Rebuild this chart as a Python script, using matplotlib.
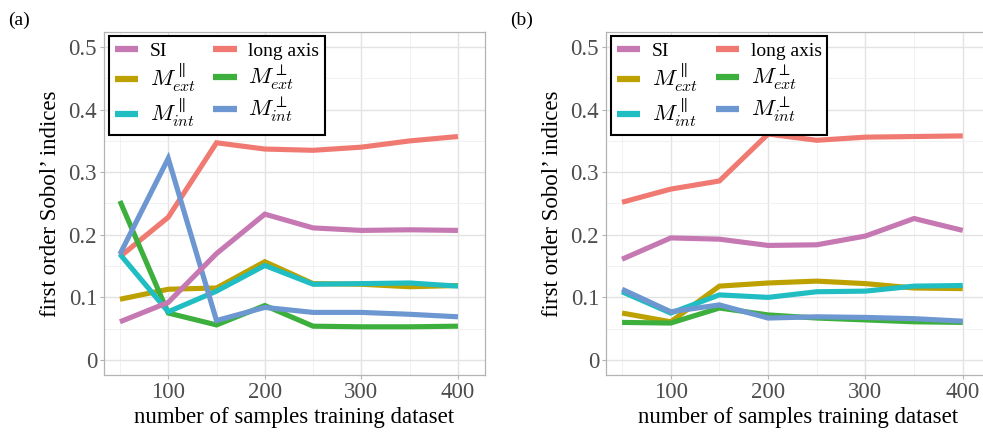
import matplotlib
matplotlib.use("Agg")
import matplotlib.pyplot as plt
from matplotlib.ticker import FuncFormatter, MultipleLocator

plt.rcParams['font.family'] = ['Liberation Serif', 'DejaVu Serif']
plt.rcParams['mathtext.fontset'] = 'cm'

n_samples = [50, 100, 150, 200, 250, 300, 350, 400]

series_names = ['long axis', 'Mext_par', 'Mext_perp', 'Mint_par', 'Mint_perp', 'SI']
labels = {
    'SI': 'SI',
    'long axis': 'long axis',
    'Mext_par': r'$M^{\parallel}_{ext}$',
    'Mext_perp': r'$M^{\perp}_{ext}$',
    'Mint_par': r'$M^{\parallel}_{int}$',
    'Mint_perp': r'$M^{\perp}_{int}$',
}
colors = {
    'long axis': '#F07A72',
    'Mext_par': '#BCA100',
    'Mext_perp': '#3DAF3D',
    'Mint_par': '#20BDC2',
    'Mint_perp': '#6C97D1',
    'SI': '#C678B2',
}

# Panel (a)
a_long_axis = [0.165, 0.228, 0.347, 0.337, 0.335, 0.340, 0.350, 0.357]
a_SI        = [0.061, 0.092, 0.170, 0.233, 0.211, 0.207, 0.208, 0.207]
a_Mext_par  = [0.097, 0.113, 0.115, 0.157, 0.122, 0.121, 0.117, 0.119]
a_Mint_par  = [0.169, 0.077, 0.110, 0.151, 0.121, 0.122, 0.123, 0.118]
a_Mext_perp = [0.254, 0.075, 0.056, 0.087, 0.054, 0.053, 0.053, 0.054]
a_Mint_perp = [0.169, 0.322, 0.063, 0.084, 0.076, 0.076, 0.073, 0.069]

# Panel (b)
b_long_axis = [0.252, 0.273, 0.286, 0.361, 0.351, 0.356, 0.357, 0.358]
b_SI        = [0.161, 0.195, 0.193, 0.183, 0.184, 0.198, 0.226, 0.207]
b_Mext_par  = [0.075, 0.061, 0.118, 0.123, 0.126, 0.122, 0.115, 0.114]
b_Mint_par  = [0.109, 0.075, 0.104, 0.100, 0.109, 0.110, 0.118, 0.119]
b_Mext_perp = [0.060, 0.059, 0.083, 0.072, 0.067, 0.064, 0.061, 0.060]
b_Mint_perp = [0.113, 0.077, 0.088, 0.067, 0.069, 0.068, 0.066, 0.062]

data_a = {'long axis': a_long_axis, 'Mext_par': a_Mext_par, 'Mext_perp': a_Mext_perp,
          'Mint_par': a_Mint_par, 'Mint_perp': a_Mint_perp, 'SI': a_SI}
data_b = {'long axis': b_long_axis, 'Mext_par': b_Mext_par, 'Mext_perp': b_Mext_perp,
          'Mint_par': b_Mint_par, 'Mint_perp': b_Mint_perp, 'SI': b_SI}

W, H = 983, 434
fig = plt.figure(figsize=(W / 100, H / 100), dpi=100)

def px_axes(l, t, r, b):
    return fig.add_axes([l / W, 1 - b / H, (r - l) / W, (b - t) / H])

def fmt(v, pos):
    if abs(v) < 1e-9:
        return '0'
    return f'{v:.1f}'

def style(ax, data):
    lines = {}
    for k in series_names:
        ln, = ax.plot(n_samples, data[k], color=colors[k], lw=3.7,
                      solid_capstyle='butt', solid_joinstyle='miter', label=labels[k])
        lines[k] = ln
    ax.set_xlim(33.5, 428)
    ax.set_ylim(-0.024, 0.524)
    ax.xaxis.set_major_locator(MultipleLocator(100))
    ax.xaxis.set_minor_locator(MultipleLocator(50))
    ax.yaxis.set_major_locator(MultipleLocator(0.1))
    ax.yaxis.set_minor_locator(MultipleLocator(0.05))
    ax.yaxis.set_major_formatter(FuncFormatter(fmt))
    ax.grid(which='major', color='#E3E3E3', lw=1.0)
    ax.grid(which='minor', color='#EFEFEF', lw=0.6)
    ax.set_axisbelow(True)
    for s in ax.spines.values():
        s.set_color('#B3B3B3')
        s.set_linewidth(0.9)
    ax.tick_params(which='major', length=3, width=0.8, color='#B3B3B3',
                   labelsize=16.5, labelcolor='#4D4D4D', pad=2)
    ax.tick_params(which='minor', length=0)
    ax.set_xlabel('number of samples training dataset', fontsize=16.5, labelpad=3)
    ax.set_ylabel('first order Sobol’ indices', fontsize=16.5, labelpad=5)
    order = ['SI', 'Mext_par', 'Mint_par', 'long axis', 'Mext_perp', 'Mint_perp']
    leg = ax.legend([lines[k] for k in order], [labels[k] for k in order],
                    ncol=2, loc='upper left', bbox_to_anchor=(0.013, 0.988),
                    borderaxespad=0, fancybox=False, framealpha=1,
                    edgecolor='black', fontsize=14, handlelength=1.2,
                    handletextpad=0.6, columnspacing=0.9, labelspacing=0.12,
                    borderpad=0.3)
    leg.get_frame().set_linewidth(1.5)
    for t in leg.get_texts():
        if t.get_text().startswith('$'):
            t.set_fontsize(16.5)
    for ln in leg.get_lines():
        ln.set_linewidth(4.5)

ax_a = px_axes(104, 32, 485, 375)
style(ax_a, data_a)
ax_b = px_axes(606, 32, 990, 375)
style(ax_b, data_b)

fig.text(8 / W, 1 - 20 / H, '(a)', fontsize=14, va='center', ha='left')
fig.text(510 / W, 1 - 20 / H, '(b)', fontsize=14, va='center', ha='left')

fig.savefig('out.png', dpi=100)
